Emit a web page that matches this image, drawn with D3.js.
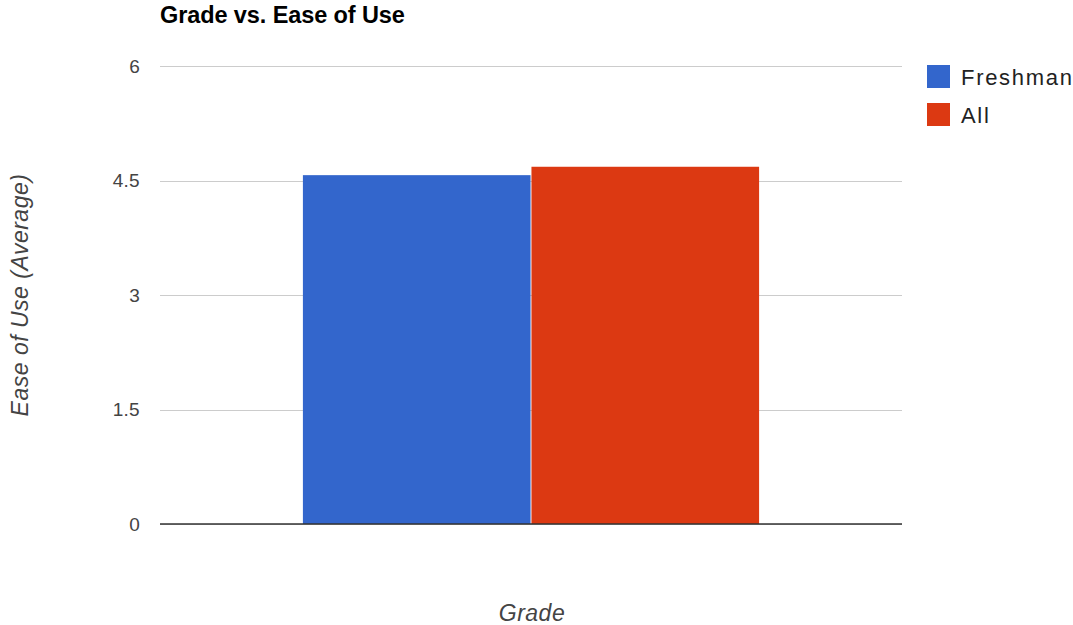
<!DOCTYPE html>
<html>
<head>
<meta charset="utf-8">
<script src="https://cdn.jsdelivr.net/npm/d3@7"></script>
<style>
  html, body { margin: 0; padding: 0; background: #fff; }
  svg { display: block; font-family: Arial, "Liberation Sans", sans-serif; }
</style>
</head>
<body>
<svg id="chart" width="1073" height="625"></svg>
<script>
// Average ease-of-use score per group
const categories = ["Grade"];
const seriesNames = ["Freshman", "All"];
const freshmanValues = [4.57];
const allValues = [4.68];
const yTicks = [0, 1.5, 3, 4.5, 6];
const seriesColors = ["#3366cc", "#dc3912"];

const svg = d3.select("#chart");
const plot = { left: 160, right: 902, top: 66, bottom: 524 };

const y = d3.scaleLinear().domain([0, 6]).range([plot.bottom, plot.top]);
const x0 = d3.scaleBand().domain(categories).range([plot.left, plot.right])
  .paddingInner(0).paddingOuter(0.31);
const x1 = d3.scaleBand().domain(seriesNames).range([0, x0.bandwidth()]).padding(0.004);

const rows = categories.map((c, i) => ({
  category: c,
  values: [freshmanValues[i], allValues[i]]
}));

// Gridlines and tick labels
const yAxis = d3.axisLeft(y).tickValues(yTicks).tickSize(-(plot.right - plot.left))
  .tickFormat(d3.format("~g")).tickPadding(20);
const gy = svg.append("g").attr("transform", `translate(${plot.left},0)`).call(yAxis);
gy.select(".domain").remove();
gy.selectAll(".tick line").attr("stroke", "#cccccc").attr("stroke-width", 1)
  .attr("shape-rendering", "crispEdges");
gy.selectAll(".tick text").attr("fill", "#444").style("font-size", "19px")
  .style("letter-spacing", "0.3px")
  .style("font-family", "Arial, 'Liberation Sans', sans-serif");

// Bars
const groups = svg.append("g").selectAll("g").data(rows).join("g")
  .attr("transform", d => `translate(${x0(d.category)},0)`);
groups.selectAll("rect")
  .data(d => d.values.map((v, i) => ({ key: seriesNames[i], value: v, i })))
  .join("rect")
  .attr("x", d => x1(d.key))
  .attr("width", x1.bandwidth())
  .attr("y", d => y(d.value))
  .attr("height", d => y(0) - y(d.value))
  .attr("fill", d => seriesColors[d.i]);

// Baseline
svg.append("line")
  .attr("x1", plot.left).attr("x2", plot.right)
  .attr("y1", y(0)).attr("y2", y(0))
  .attr("stroke", "#333").attr("stroke-width", 1.5);

// Title
svg.append("text").attr("x", plot.left).attr("y", 23)
  .attr("fill", "#000").style("font-weight", "bold").style("font-size", "23.5px")
  .style("letter-spacing", "-0.1px")
  .text("Grade vs. Ease of Use");

// Axis titles
svg.append("text").attr("x", (plot.left + plot.right) / 2 + 1).attr("y", 621)
  .attr("text-anchor", "middle").attr("fill", "#444")
  .style("font-style", "italic").style("font-size", "23px")
  .style("letter-spacing", "0.5px")
  .text(categories[0]);
svg.append("text")
  .attr("transform", `translate(28,${(plot.top + plot.bottom) / 2}) rotate(-90)`)
  .attr("text-anchor", "middle").attr("fill", "#444")
  .style("font-style", "italic").style("font-size", "23px")
  .style("letter-spacing", "0.5px")
  .text("Ease of Use (Average)");

// Legend
const legend = svg.append("g").attr("transform", "translate(927,65)");
const li = legend.selectAll("g").data(seriesNames).join("g")
  .attr("transform", (d, i) => `translate(0,${i * 38})`);
li.append("rect").attr("width", 23).attr("height", 23)
  .attr("fill", (d, i) => seriesColors[i]);
li.append("text").attr("x", 34).attr("y", 20)
  .attr("fill", "#222").style("font-size", "22px").style("letter-spacing", "1.7px")
  .text(d => d);
</script>
</body>
</html>
